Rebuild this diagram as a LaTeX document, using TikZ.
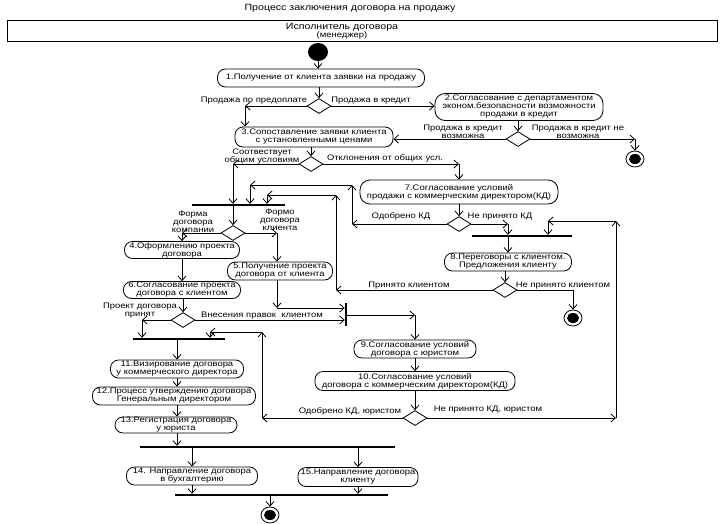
\documentclass[tikz,border=0pt]{standalone}
\usepackage{fontspec}
\setmainfont{Liberation Sans}[FakeStretch=1.18]
\usetikzlibrary{arrows.meta,shapes.geometric}
\begin{document}
\begin{tikzpicture}[x=1pt,y=-1pt,
  every node/.style={font=\fontsize{8}{8}\selectfont, inner sep=0pt},
  act/.style={draw, rounded corners=8pt, align=center, line width=0.8pt},
  dec/.style={draw, diamond, minimum width=24pt, minimum height=15pt, line width=0.8pt},
  hbar/.style={fill=black, minimum height=2pt},
  vbar/.style={fill=black, minimum width=2pt},
  arr/.style={-{Straight Barb[length=4.5pt,width=8pt]}, line width=0.8pt},
  ln/.style={line width=0.8pt},
  lbl/.style={align=center},
  startnode/.style={ellipse, fill=black, minimum width=20pt, minimum height=18pt},
  endnode/.style={ellipse, draw, line width=0.8pt, minimum width=18pt, minimum height=16pt,
    path picture={\fill[black] (path picture bounding box.center) ellipse (6pt and 5pt);}}
]
\useasboundingbox (0,0) rectangle (724,523);

% title and header
\node (title) at (350,8) {\fontsize{9}{10}\selectfont Процесс заключения договора на продажу};
\node[draw, line width=0.8pt, minimum width=710pt, minimum height=21pt] (hdr) at (362,30.5) {};
\node[lbl] (hdrtxt) at (342,31) {\fontsize{9}{9}\selectfont Исполнитель договора\\(менеджер)};

% start
\node[startnode] (s) at (318,52) {};
\node[act, minimum width=207pt, minimum height=18pt] (a1) at (321,78) {1.Получение от клиента заявки на продажу};
\draw[arr] (s.south) -- (s.south |- a1.north);

% decision 1
\node[dec] (d1) at (319,106) {};
\draw[arr] (a1.south -| d1) -- (d1.north);
\node (l1) at (254,101) {Продажа по предоплате};
\node (l2) at (371,101) {Продажа в кредит};

\node[act, rounded corners=10pt, minimum width=168pt, minimum height=27pt] (a2) at (519,107)
  {\fontsize{8}{7.5}\selectfont 2.Согласование с департаментом\\эконом.безопасности возможности\\продажи в кредит};
\draw[arr] (d1.east) -- (d1.east -| a2.west);

\node[act, minimum width=158pt, minimum height=20pt] (a3) at (314,137) {3.Сопоставление заявки клиента\\с установленными ценами};
\coordinate (c1) at (245,106);
\draw[arr] (d1.west) -- (c1);
\draw[arr] (c1) -- (c1 |- a3.north);

% decision 2
\node[dec] (d2) at (518,139) {};
\draw[arr] (a2.south -| d2) -- (d2.north);
\node[lbl] (l3) at (463,132) {Продажа в кредит\\возможна};
\node[lbl] (l4) at (578,132) {Продажа в кредит не\\возможна};
\draw[arr] (d2.west) -- (d2.west -| a3.east);
\coordinate (c2) at (635,139);
\node[endnode] (e1) at (635,159) {};
\draw[arr] (d2.east) -- (c2);
\draw[arr] (c2) -- (e1.north);

% decision 3
\node[dec] (d3) at (311,164) {};
\draw[arr] (a3.south -| d3) -- (d3.north);
\node[lbl] (l5) at (262,157) {Соотвествует\\общим условиям};
\node (l6) at (385,158) {Отклонения от общих усл.};

\node[hbar, minimum width=93pt] (f1) at (238.5,205) {};
\coordinate (c3) at (233,164);
\draw[arr] (d3.west) -- (c3);
\draw[arr] (c3) -- (c3 |- f1.north);

\node[act, rounded corners=10pt, minimum width=198pt, minimum height=24pt] (a7) at (459,192) {7.Согласование условий\\продажи с коммерческим директором(КД)};
\coordinate (c4) at (459,164);
\draw[arr] (d3.east) -- (c4);
\draw[arr] (c4) -- (a7.north);

% decision 4
\node[dec] (d4) at (459,224) {};
\draw[arr] (a7.south) -- (d4.north);
\node (l7) at (401,216) {Одобрено КД};
\node (l8) at (500,217) {Не принято КД};
\coordinate (c5) at (352,224);
\coordinate (c6) at (352,185);
\coordinate (c7) at (250,185);
\draw[arr] (d4.west) -- (c5);
\draw[arr] (c5) -- (c6);
\draw[arr] (c6) -- (c7);
\draw[arr] (c7) -- (c7 |- f1.north);

\node[hbar, minimum width=100pt] (f2) at (522,236) {};
\coordinate (c8) at (508,224);
\draw[arr] (d4.east) -- (c8);
\draw[arr] (c8) -- (c8 |- f2.north);

\node[act, minimum width=127pt, minimum height=18pt] (a8) at (508,262) {8.Переговоры с клиентом.\\Предложения клиенту};
\draw[arr] (c8 |- f2.south) -- (a8.north);

% decision 6
\node[dec] (d6) at (505,290) {};
\draw[arr] (a8.south -| d6) -- (d6.north);
\node (l9) at (409,286) {Принято клиентом};
\node (l10) at (563,286) {Не принято клиентом};
\coordinate (c9) at (336,290);
\coordinate (c10) at (336,195);
\coordinate (c11) at (267,195);
\draw[arr] (d6.west) -- (c9);
\draw[arr] (c9) -- (c10);
\draw[arr] (c10) -- (c11);
\draw[arr] (c11) -- (c11 |- f1.north);
\coordinate (c12) at (573,290);
\node[endnode] (e2) at (573,318) {};
\draw[ln] (d6.east) -- (c12);
\draw[arr] (c12) -- (e2.north);

% decision 5
\node[dec] (d5) at (233,233) {};
\draw[arr] (c3 |- f1.south) -- (d5.north);
\node[lbl] (l11) at (193,222) {\fontsize{8}{7}\selectfont Форма\\договора\\компании};
\node[lbl] (l12) at (280,220) {\fontsize{8}{7}\selectfont Формо\\договора\\клиента};

\node[act, minimum width=115pt, minimum height=17pt] (a4) at (182,250) {4.Оформлению проекта\\договора};
\node[act, minimum width=105pt, minimum height=18pt] (a5) at (280,271) {5.Получение проекта\\договора от клиента};
\node[act, minimum width=117pt, minimum height=17pt] (a6) at (182,290) {6.Согласование проекта\\договора с клиентом};
\coordinate (c13) at (182,233);
\draw[arr] (d5.west) -- (c13);
\draw[arr] (c13) -- (a4.north);
\coordinate (c14) at (277,233);
\draw[arr] (d5.east) -- (c14);
\draw[arr] (c14) -- (c14 |- a5.north);
\draw[arr] (a4.south) -- (a6.north);

% decision 7
\node[dec] (d7) at (183,320) {};
\draw[arr] (a6.south -| d7) -- (d7.north);
\node[lbl] (l13) at (140,311) {\fontsize{8}{6.5}\selectfont Проект договора\\принят};
\node (l14) at (262,315.5) {Внесения правок\ \ клиентом};

\node[vbar, minimum height=23pt] (f3) at (346,314.5) {};
\coordinate (c15) at (277,308);
\draw[arr] (a5.south -| c15) -- (c15);
\draw[arr] (c15) -- (c15 -| f3.west);
\draw[arr] (d7.east) -- (d7.east -| f3.west);

\node[hbar, minimum width=92pt] (f4) at (179,339) {};
\coordinate (c16) at (142,320);
\draw[arr] (d7.west) -- (c16);
\draw[arr] (c16) -- (c16 |- f4.north);

\node[act, minimum width=122pt, minimum height=18pt] (a9) at (415,349) {9.Согласование условий\\договора с юристом};
\coordinate (c17) at (415,315);
\draw[arr] (f3.east |- c17) -- (c17);
\draw[arr] (c17) -- (a9.north);
\node[act, minimum width=200pt, minimum height=19pt] (a10) at (415,381) {10.Согласование условий\\договора с коммерческим директором(КД)};
\draw[arr] (a9.south) -- (a10.north);

% decision 8
\node[dec] (d8) at (415,418) {};
\draw[arr] (a10.south) -- (d8.north);
\node (l15) at (350,411) {Одобрено КД, юристом};
\node (l16) at (488,410) {Не принято КД, юристом};
\coordinate (c18) at (262,418);
\coordinate (c19) at (262,332);
\coordinate (c20) at (210,332);
\draw[arr] (d8.west) -- (c18);
\draw[arr] (c18) -- (c19);
\draw[arr] (c19) -- (c20);
\draw[arr] (c20) -- (c20 |- f4.north);
\coordinate (c21) at (616,418);
\coordinate (c22) at (616,221);
\coordinate (c23) at (548,221);
\draw[arr] (d8.east) -- (c21);
\draw[arr] (c21) -- (c22);
\draw[arr] (c22) -- (c23);
\draw[arr] (c23) -- (c23 |- f2.north);

% left column
\node[act, minimum width=133pt, minimum height=18pt] (a11) at (177,369) {11.Визирование договора\\у коммерческого директора};
\node[act, minimum width=163pt, minimum height=18pt] (a12) at (174,396) {12.Процесс утверждению договора\\Генеральным директором};
\node[act, minimum width=122pt, minimum height=16pt] (a13) at (176,425) {13.Регистрация договора\\у юриста};
\draw[arr] (a11.north |- f4.south) -- (a11.north);
\draw[arr] (a11.south) -- (a11.south |- a12.north);
\draw[arr] (a11.south |- a12.south) -- (a11.south |- a13.north);

\node[hbar, minimum width=255pt] (f5) at (267.5,447) {};
\draw[arr] (a11.south |- a13.south) -- (a11.south |- f5.north);

\node[act, minimum width=131pt, minimum height=18pt] (a14) at (192,476) {14. Направление договора\\в бухгалтерию};
\node[act, minimum width=120pt, minimum height=19pt] (a15) at (358,477) {15.Направление договора\\клиенту};
\draw[arr] (a14.north |- f5.south) -- (a14.north);
\draw[arr] (a15.north |- f5.south) -- (a15.north);

\node[hbar, minimum width=213pt] (f6) at (281.5,495) {};
\draw[arr] (a14.south) -- (a14.south |- f6.north);
\draw[arr] (a15.south) -- (a15.south |- f6.north);
\node[endnode] (e3) at (270,515) {};
\draw[arr] (e3.north |- f6.south) -- (e3.north);
\end{tikzpicture}
\end{document}
